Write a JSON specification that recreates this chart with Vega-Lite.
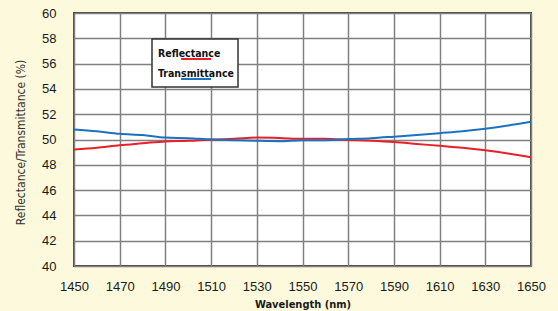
{
  "$schema": "https://vega.github.io/schema/vega-lite/v6.json",
  "width": 457,
  "height": 253,
  "autosize": {"type": "none"},
  "padding": {"left": 74, "top": 13, "right": 27, "bottom": 45},
  "background": "#fdf9dc",
  "config": {
    "view": {"fill": "white", "stroke": "#444", "strokeWidth": 2},
    "font": "Liberation Sans",
    "axis": {
      "grid": true, "gridColor": "#808080", "gridWidth": 1.5, "domain": false, "ticks": false,
      "labelFont": "Liberation Sans", "labelFontSize": 13, "labelColor": "#1a1a1a",
      "titleFont": "'DejaVu Sans Condensed', 'Liberation Sans', sans-serif", "titleFontWeight": "bold", "titleFontSize": 11, "titleColor": "#1a1a1a"
    },
    "legend": {
      "orient": "none", "legendX": 78, "legendY": 26,
      "fillColor": "white", "strokeColor": "#333", "strokeWidth": 1.5, "padding": 4,
      "symbolType": "stroke", "symbolSize": 900, "symbolStrokeWidth": 2, "symbolOffset": 24,
      "labelOffset": -54, "labelAlign": "left", "labelBaseline": "bottom",
      "labelFont": "'DejaVu Sans Condensed', 'Liberation Sans', sans-serif", "labelFontWeight": "bold", "labelFontSize": 10.5, "labelColor": "#111",
      "rowPadding": 0, "title": null
    }
  },
  "data": {"values": [
    {"wl": 1450, "series": "Reflectance", "v": 49.2},
    {"wl": 1460, "series": "Reflectance", "v": 49.35},
    {"wl": 1470, "series": "Reflectance", "v": 49.55},
    {"wl": 1480, "series": "Reflectance", "v": 49.7},
    {"wl": 1490, "series": "Reflectance", "v": 49.85},
    {"wl": 1500, "series": "Reflectance", "v": 49.9},
    {"wl": 1510, "series": "Reflectance", "v": 50.0},
    {"wl": 1520, "series": "Reflectance", "v": 50.05},
    {"wl": 1530, "series": "Reflectance", "v": 50.15},
    {"wl": 1540, "series": "Reflectance", "v": 50.12},
    {"wl": 1550, "series": "Reflectance", "v": 50.05},
    {"wl": 1560, "series": "Reflectance", "v": 50.05},
    {"wl": 1570, "series": "Reflectance", "v": 49.97},
    {"wl": 1580, "series": "Reflectance", "v": 49.9},
    {"wl": 1590, "series": "Reflectance", "v": 49.8},
    {"wl": 1600, "series": "Reflectance", "v": 49.65},
    {"wl": 1610, "series": "Reflectance", "v": 49.5},
    {"wl": 1620, "series": "Reflectance", "v": 49.35},
    {"wl": 1630, "series": "Reflectance", "v": 49.15},
    {"wl": 1640, "series": "Reflectance", "v": 48.9},
    {"wl": 1650, "series": "Reflectance", "v": 48.6},
    {"wl": 1450, "series": "Transmittance", "v": 50.8},
    {"wl": 1460, "series": "Transmittance", "v": 50.65},
    {"wl": 1470, "series": "Transmittance", "v": 50.45},
    {"wl": 1480, "series": "Transmittance", "v": 50.35},
    {"wl": 1490, "series": "Transmittance", "v": 50.15},
    {"wl": 1500, "series": "Transmittance", "v": 50.1},
    {"wl": 1510, "series": "Transmittance", "v": 50.0},
    {"wl": 1520, "series": "Transmittance", "v": 49.95},
    {"wl": 1530, "series": "Transmittance", "v": 49.9},
    {"wl": 1540, "series": "Transmittance", "v": 49.87},
    {"wl": 1550, "series": "Transmittance", "v": 49.95},
    {"wl": 1560, "series": "Transmittance", "v": 49.95},
    {"wl": 1570, "series": "Transmittance", "v": 50.03},
    {"wl": 1580, "series": "Transmittance", "v": 50.1},
    {"wl": 1590, "series": "Transmittance", "v": 50.22},
    {"wl": 1600, "series": "Transmittance", "v": 50.35},
    {"wl": 1610, "series": "Transmittance", "v": 50.5},
    {"wl": 1620, "series": "Transmittance", "v": 50.65},
    {"wl": 1630, "series": "Transmittance", "v": 50.85},
    {"wl": 1640, "series": "Transmittance", "v": 51.1},
    {"wl": 1650, "series": "Transmittance", "v": 51.4}
  ]},
  "mark": {"type": "line", "strokeWidth": 2, "interpolate": "monotone", "clip": true},
  "encoding": {
    "x": {
      "field": "wl", "type": "quantitative",
      "scale": {"domain": [1450, 1650], "nice": false, "zero": false},
      "axis": {"values": [1450,1470,1490,1510,1530,1550,1570,1590,1610,1630,1650], "format": "d",
        "title": "Wavelength (nm)", "labelPadding": 14, "titlePadding": 5, "labelFlush": false}
    },
    "y": {
      "field": "v", "type": "quantitative",
      "scale": {"domain": [40, 60], "nice": false, "zero": false},
      "axis": {"values": [40,42,44,46,48,50,52,54,56,58,60], "title": "Reflectance/Transmittance (%)",
        "titleFontWeight": "normal", "titleColor": "#333", "titleFontSize": 12,
        "labelPadding": 18, "titleX": -54, "titleY": 129, "titleAlign": "center", "titleBaseline": "middle", "titleAngle": -90}
    },
    "color": {
      "field": "series", "type": "nominal",
      "scale": {"domain": ["Reflectance", "Transmittance"], "range": ["#e8202a", "#1a72c0"]}
    }
  }
}
